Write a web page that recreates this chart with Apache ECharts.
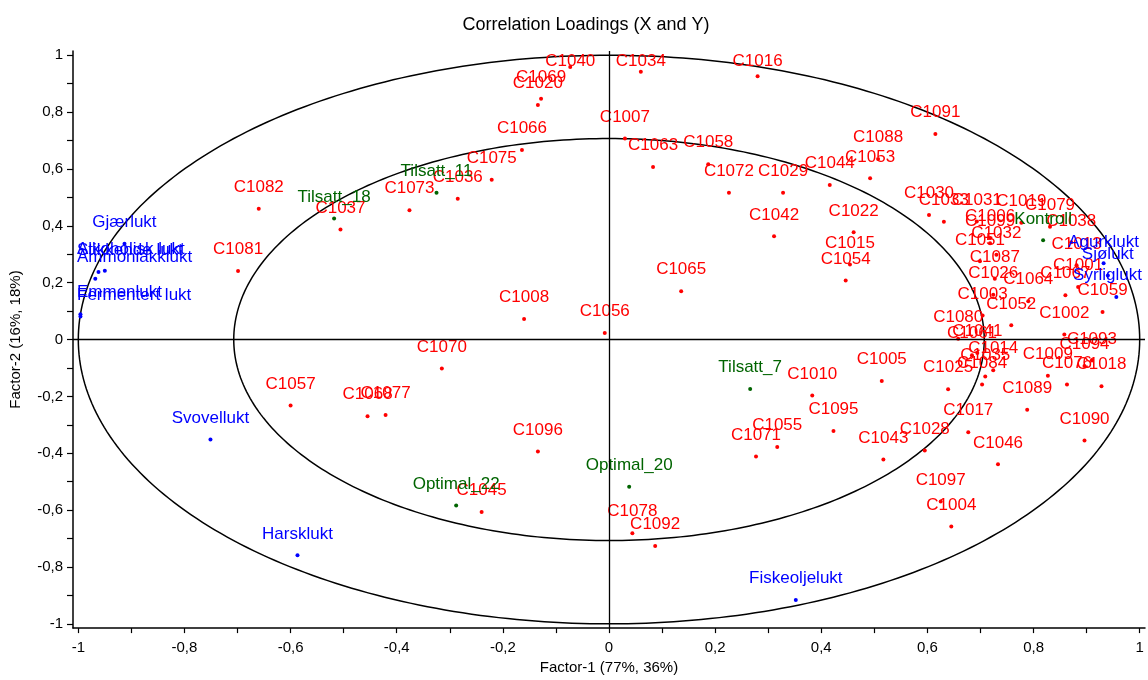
<!DOCTYPE html>
<html><head><meta charset="utf-8">
<script src="https://cdn.jsdelivr.net/npm/echarts@6/dist/echarts.min.js"></script>
<style>html,body{margin:0;padding:0;background:#fff}#c{width:1148px;height:680px}</style>
</head><body><div id="c"></div>
<script>
// ---- data ----
const redNames = ['C1040','C1034','C1016','C1069','C1020','C1007','C1063','C1066','C1075','C1036','C1073','C1082','C1037','C1081','C1091','C1058','C1088','C1053','C1072','C1029','C1044','C1030','C1033','C1031','C1019','C1022','C1042','C1015','C1054','C1065','C1008','C1056','C1079','C1038','C1006','C1099','C1032','C1051','C1013','C1087','C1026','C1064','C1067','C1001','C1059','C1003','C1052','C1080','C1002','C1093','C1094','C1018','C1009','C1076','C1014','C1035','C1084','C1041','C1061','C1025','C1005','C1089','C1017','C1090','C1028','C1046','C1043','C1097','C1004','C1078','C1092','C1010','C1095','C1055','C1071','C1070','C1057','C1068','C1077','C1096','C1045'];
const redX = [-0.073,0.060,0.280,-0.128,-0.134,0.030,0.083,-0.164,-0.221,-0.285,-0.376,-0.660,-0.506,-0.699,0.615,0.187,0.507,0.492,0.226,0.328,0.416,0.603,0.631,0.693,0.777,0.461,0.311,0.454,0.446,0.136,-0.160,-0.008,0.831,0.871,0.718,0.718,0.730,0.699,0.881,0.727,0.724,0.790,0.860,0.884,0.930,0.704,0.758,0.658,0.858,0.910,0.896,0.928,0.827,0.863,0.724,0.709,0.703,0.694,0.684,0.639,0.514,0.788,0.677,0.896,0.595,0.733,0.517,0.625,0.645,0.044,0.087,0.383,0.423,0.317,0.277,-0.315,-0.600,-0.455,-0.421,-0.134,-0.240];
const redY = [0.959,0.942,0.926,0.847,0.825,0.707,0.607,0.667,0.562,0.495,0.455,0.460,0.387,0.241,0.723,0.617,0.635,0.567,0.516,0.516,0.544,0.438,0.414,0.415,0.411,0.377,0.363,0.264,0.208,0.170,0.072,0.023,0.397,0.342,0.357,0.339,0.298,0.275,0.261,0.214,0.158,0.135,0.156,0.185,0.097,0.085,0.050,0.003,0.018,-0.074,-0.093,-0.164,-0.127,-0.158,-0.108,-0.130,-0.158,-0.047,-0.055,-0.175,-0.146,-0.247,-0.326,-0.355,-0.390,-0.439,-0.422,-0.570,-0.658,-0.681,-0.726,-0.197,-0.322,-0.378,-0.411,-0.102,-0.232,-0.270,-0.265,-0.394,-0.607];

const greenNames = ['Tilsatt_11','Tilsatt_18','Kontroll','Tilsatt_7','Optimal_20','Optimal_22'];
const greenX = [-0.325,-0.518,0.818,0.266,0.038,-0.288];
const greenY = [0.516,0.426,0.349,-0.174,-0.518,-0.584];

const blueNames = ['Gjærlukt','Stikkende lukt','Alkoholisk lukt','Ammoniakklukt','Emmenlukt','Fermentert lukt','Svovellukt','Harsklukt','Fiskeoljelukt','Agurklukt','Sjølukt','Syrliglukt'];
const blueX = [-0.913,-0.962,-0.950,-0.968,-0.996,-0.996,-0.751,-0.587,0.352,0.932,0.940,0.956];
const blueY = [0.337,0.238,0.242,0.214,0.089,0.081,-0.352,-0.759,-0.916,0.268,0.225,0.150];

const tickValues = [-1,-0.8,-0.6,-0.4,-0.2,0,0.2,0.4,0.6,0.8,1];
const tickLabels = ['-1','-0,8','-0,6','-0,4','-0,2','0','0,2','0,4','0,6','0,8','1'];
const minorTickValues = [-1,-0.9,-0.8,-0.7,-0.6,-0.5,-0.4,-0.3,-0.2,-0.1,0,0.1,0.2,0.3,0.4,0.5,0.6,0.7,0.8,0.9,1];
const ellipseRadii = [1, 0.7071];

const titleText = 'Correlation Loadings (X and Y)';
const xName = 'Factor-1 (77%, 36%)';
const yName = 'Factor-2 (16%, 18%)';

// ---- layout ----
const G = {left:72, right:3, top:51, bottom:50};
const W = 1148, H = 680;
const clampL = G.left + 5, clampR = W - G.right - 3, clampT = G.top + 2;
const FONT = 'Liberation Sans, Arial, Helvetica, sans-serif';

function fmt(v){ const i = tickValues.findIndex(t => Math.abs(t - v) < 1e-9); return i >= 0 ? tickLabels[i] : ''; }
function pts(names, xs, ys){ return names.map((n,i) => ({name:n, value:[xs[i], ys[i]]})); }

function scatter(names, xs, ys, color){
  return {
    type:'scatter', data: pts(names, xs, ys), symbolSize:4, itemStyle:{color:color, opacity:1},
    label:{show:true, formatter:'{b}', position:'top', distance:11, color:color, fontSize:17, fontFamily:FONT, opacity:1},
    labelLayout: function(p){
      const r = p.labelRect; let dx = 0, dy = 0;
      if (r.x < clampL) dx = clampL - r.x;
      if (r.x + r.width > clampR) dx = clampR - (r.x + r.width);
      if (r.y < clampT) dy = clampT - r.y;
      return {dx:dx, dy:dy};
    },
    emphasis:{disabled:true}, animation:false, z:3
  };
}

const chart = echarts.init(document.getElementById('c'), null, {renderer:'canvas'});
const axisCommon = {
  type:'value', min:-1.01, max:1.01,
  splitLine:{show:false},
  axisLine:{onZero:false, lineStyle:{color:'#000', width:1.5}},
  axisTick:{show:true, customValues:minorTickValues, length:5, lineStyle:{color:'#000', width:1.2}},
  axisLabel:{customValues:tickValues, formatter:fmt, color:'#000', fontSize:15, fontFamily:FONT},
  nameLocation:'middle', nameTextStyle:{color:'#000', fontSize:15, fontFamily:FONT}
};
chart.setOption({
  animation:false,
  backgroundColor:'#fff',
  title:{text:titleText, left:581, top:11, textAlign:'center', textStyle:{fontSize:18, fontWeight:'normal', color:'#000', fontFamily:FONT}},
  grid:G,
  xAxis: Object.assign({}, axisCommon, {name:xName, nameGap:30, axisLabel:Object.assign({}, axisCommon.axisLabel, {margin:12})}),
  yAxis: Object.assign({}, axisCommon, {min:-1.015, max:1.015, name:yName, nameGap:50, axisLabel:Object.assign({}, axisCommon.axisLabel, {margin:10}), axisTick:Object.assign({}, axisCommon.axisTick, {length:6})}),
  series:[
    {
      type:'custom', silent:true, z:1, data: ellipseRadii.map(r => [r]),
      renderItem: function(params, api){
        const r = api.value(0); const p = [];
        for (let k = 0; k <= 360; k++){ const t = k*Math.PI/180; p.push(api.coord([r*Math.cos(t), r*Math.sin(t)])); }
        return {type:'polyline', shape:{points:p}, style:{stroke:'#000', lineWidth:1.5, fill:null}};
      },
      markLine:{silent:true, symbol:'none', label:{show:false}, lineStyle:{color:'#000', width:1.3, type:'solid'},
        data:[{xAxis:0},{yAxis:0}]}
    },
    scatter(redNames, redX, redY, '#ff0000'),
    scatter(greenNames, greenX, greenY, '#006400'),
    scatter(blueNames, blueX, blueY, '#0000ff')
  ]
});
</script>
</body></html>
